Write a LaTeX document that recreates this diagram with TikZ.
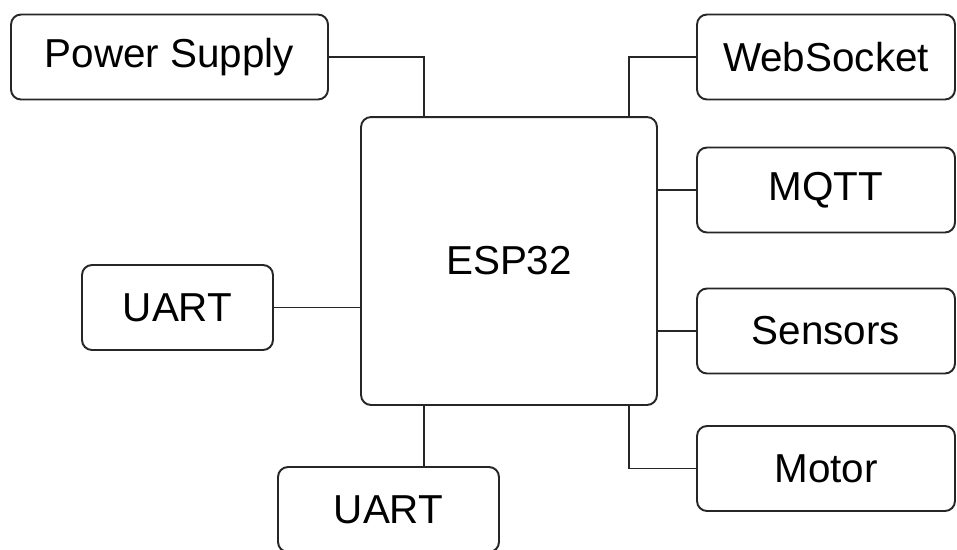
\documentclass[tikz,border=0pt]{standalone}
\usepackage{fontspec}
\setmainfont{Liberation Sans}
\usetikzlibrary{positioning}
\usetikzlibrary{calc}

\begin{document}
\begin{tikzpicture}[x=0.02cm, y=-0.02cm,
    block/.style={draw=black!85, line width=1.1pt, rounded corners=0.2cm,
      minimum height=1.7cm, inner sep=0pt, font=\fontsize{23}{28}\selectfont},
    wire/.style={draw=black!85, line width=1.1pt}]
      % Frame of the picture
      \useasboundingbox (0,0) rectangle (957,549);
      \clip (0,0) rectangle (957,549);

      % Main controller
      \node[block, minimum width=5.92cm, minimum height=5.76cm] (esp) at (509,261) {ESP32};

      % Left side blocks
      \node[block, minimum width=6.34cm] (psu) at (169.5,57) {Power Supply};
      \node[block, minimum width=3.82cm] (uartL) at (177.5,307.5) {UART};
      \node[block, minimum width=4.42cm] (uartB) at (388.5,509.5) {UART};

      % Right side blocks
      \node[block, minimum width=5.16cm] (web) at (826,57) {WebSocket};
      \node[block, minimum width=5.16cm] (mqtt) at (826,190) {MQTT};
      \node[block, minimum width=5.16cm] (sens) at (826,331) {Sensors};
      \node[block, minimum width=5.16cm] (motor) at (826,468.5) {Motor};

      % Connections
      \draw[wire] (psu.east) -| ([xshift=1.28cm]esp.north west);
      \draw[wire] (uartL.east) -- (uartL.east -| esp.west);
      \draw[wire] ([xshift=1.28cm]esp.south west) -- ([xshift=1.28cm]esp.south west |- uartB.north);
      \draw[wire] ([xshift=-0.58cm]esp.north east) |- (web.west);
      \draw[wire] (mqtt.west) -- (mqtt.west -| esp.east);
      \draw[wire] (sens.west) -- (sens.west -| esp.east);
      \draw[wire] ([xshift=-0.58cm]esp.south east) |- (motor.west);

\end{tikzpicture}
\end{document}
